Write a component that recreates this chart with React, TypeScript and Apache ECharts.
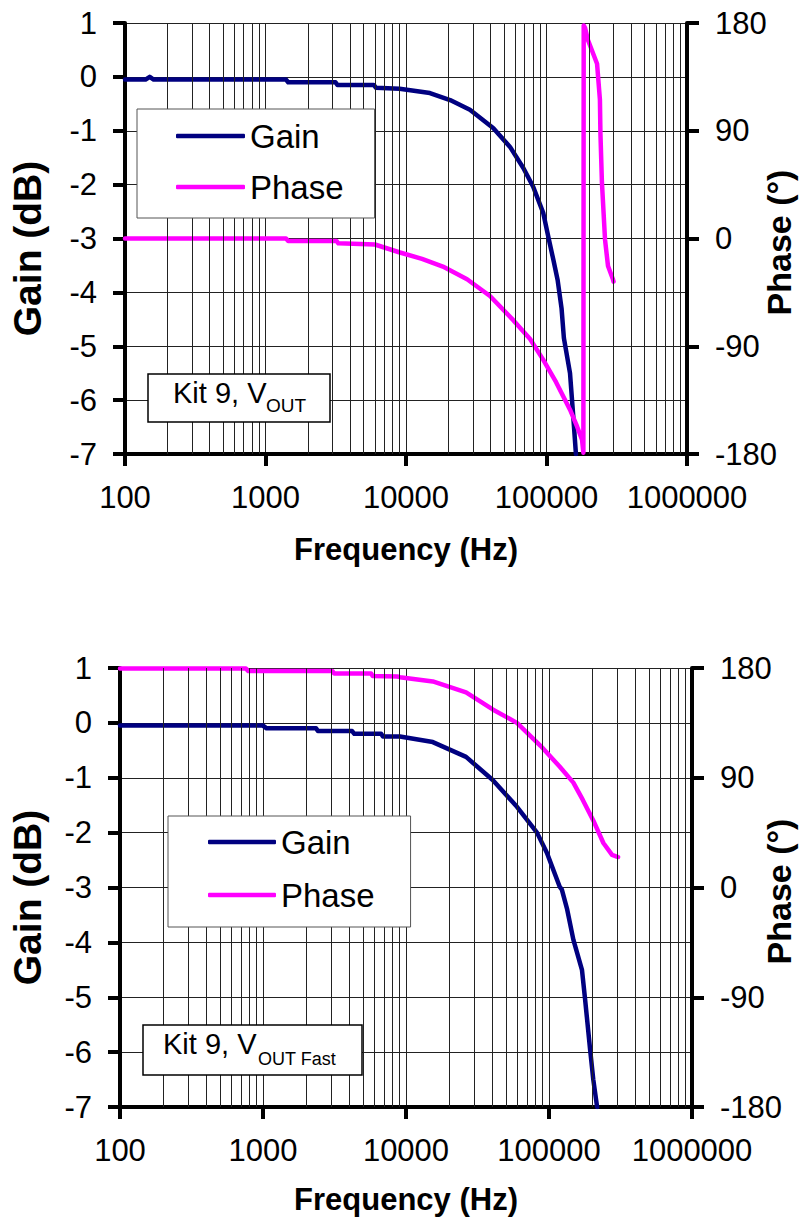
import React, { useEffect, useRef } from "react";
import * as echarts from "echarts";

const FONT = "'Liberation Sans', Arial, Helvetica, sans-serif";

const xTickLabels = ["100", "1000", "10000", "100000", "1000000"];
const minorFreqs = [
  200, 300, 400, 500, 600, 700, 800, 900,
  2000, 3000, 4000, 5000, 6000, 7000, 8000, 9000,
  20000, 30000, 40000, 50000, 60000, 70000, 80000, 90000,
  200000, 300000, 400000, 500000, 600000, 700000, 800000, 900000,
];
const seriesNames = ["Gain", "Phase"];

// Top chart: Kit 9, VOUT
const topGain: [number, number][] = [
  [100, -0.05], [140, -0.05], [150, 0], [160, -0.05], [1400, -0.05], [1450, -0.1],
  [3150, -0.1], [3250, -0.15], [5900, -0.15], [6100, -0.2], [9000, -0.22],
  [14800, -0.3], [20600, -0.43], [28500, -0.61], [41700, -0.95], [55000, -1.3],
  [68400, -1.69], [80400, -2.04], [94900, -2.53], [104000, -3.02], [112000, -3.4],
  [120000, -3.77], [128000, -4.3], [133000, -4.85], [147000, -5.5], [155000, -6.3],
  [162000, -7.0],
];
const topPhase: [number, number][] = [
  [100, 0], [1400, 0], [1450, -2], [3200, -2], [3300, -4], [6000, -5], [9060, -11.7],
  [13000, -17], [18300, -23.4], [27200, -34], [39600, -48], [57800, -68],
  [76400, -84], [94400, -101], [117000, -120], [147000, -143], [165000, -157],
  [179000, -168], [183000, -179], [184000, 178], [188000, 176], [197000, 166],
  [229000, 146], [240000, 116], [242000, 88], [248000, 47], [261000, -1],
  [274000, -23], [297000, -34], [300000, -36],
];

// Bottom chart: Kit 9, VOUT Fast
const botGain: [number, number][] = [
  [100, -0.05], [1000, -0.05], [1060, -0.1], [2350, -0.1], [2420, -0.15],
  [4200, -0.15], [4350, -0.2], [6700, -0.2], [6900, -0.25], [9070, -0.25],
  [15400, -0.35], [26300, -0.62], [40400, -1.04], [59700, -1.53], [82400, -2.0],
  [96800, -2.37], [119000, -2.99], [123000, -3.04], [134000, -3.4], [148000, -3.95],
  [170000, -4.5], [179000, -5.05], [194000, -5.96], [204000, -6.5], [217000, -7.0],
];
const botPhase: [number, number][] = [
  [100, 179.5], [760, 179.5], [790, 177.5], [3050, 177.5], [3150, 175.5],
  [5700, 175.5], [5850, 173.5], [8700, 173], [9070, 172.5], [15400, 169],
  [26300, 160], [40400, 146], [59700, 135], [87600, 116], [119000, 99],
  [148000, 86], [172000, 72], [204000, 55], [240000, 36.5], [276000, 26.7],
  [304000, 25],
];

const GAIN_COLOR = "#000080";
const PHASE_COLOR = "#FF00FF";

function xAxisCfg(gridIndex: number, nameGap: number) {
  return {
    type: "log",
    logBase: 10,
    min: 100,
    max: 1000000,
    gridIndex,
    name: "Frequency (Hz)",
    nameLocation: "middle",
    nameGap,
    nameMoveOverlap: false,
    nameTextStyle: { fontFamily: FONT, fontWeight: "bold", fontSize: 31, color: "#000" },
    axisLine: { show: true, onZero: false, lineStyle: { color: "#000", width: 4 } },
    axisTick: { show: true, length: 12, lineStyle: { color: "#000", width: 4 } },
    axisLabel: {
      margin: 28,
      fontFamily: FONT,
      fontSize: 31,
      color: "#000",
      formatter: (v: number) => xTickLabels[Math.round(Math.log10(v)) - 2] ?? "",
    },
    splitLine: { show: true, lineStyle: { color: "#222", width: 1 } },
  };
}

function yAxisCfg(
  gridIndex: number,
  position: "left" | "right",
  name: string,
  min: number,
  max: number,
  interval: number,
  nameGap: number,
  nameSize: number,
  nameShift: number,
  split: boolean
) {
  return {
    type: "value",
    gridIndex,
    position,
    min,
    max,
    interval,
    name,
    nameLocation: "middle",
    nameGap,
    nameRotate: 90,
    nameMoveOverlap: false,
    nameTextStyle: {
      fontFamily: FONT,
      fontWeight: "bold",
      fontSize: nameSize,
      color: "#000",
      padding: [0, nameShift, 0, 0],
    },
    axisLine: { show: true, onZero: false, lineStyle: { color: "#000", width: 4 } },
    axisTick: { show: true, length: 12, lineStyle: { color: "#000", width: 4 } },
    axisLabel: { margin: 28, fontFamily: FONT, fontSize: 31, color: "#000" },
    splitLine: { show: split, lineStyle: { color: "#222", width: 1 } },
  };
}

function gridSeries(xi: number, yi: number) {
  return {
    type: "line",
    name: "grid" + xi,
    xAxisIndex: xi,
    yAxisIndex: yi,
    data: [],
    silent: true,
    z: 1,
    markLine: {
      silent: true,
      symbol: ["none", "none"],
      label: { show: false },
      lineStyle: { color: "#222", width: 1, type: "solid" },
      emphasis: { disabled: true },
      data: minorFreqs.map((f) => ({ xAxis: f })),
    },
  };
}

function curve(name: string, data: [number, number][], xi: number, yi: number, color: string) {
  return {
    type: "line",
    name,
    xAxisIndex: xi,
    yAxisIndex: yi,
    data,
    symbol: "none",
    showSymbol: false,
    z: 3,
    lineStyle: { color, width: 4.5, cap: "round", join: "round" },
    itemStyle: { color },
    emphasis: { disabled: true },
  };
}

function legendCfg(left: number, top: number, padding: number[], itemWidth: number, itemGap: number) {
  return {
    data: seriesNames,
    orient: "vertical",
    left,
    top,
    padding,
    icon: "roundRect",
    itemWidth,
    itemHeight: 4.5,
    itemGap,
    backgroundColor: "#fff",
    borderColor: "#555",
    borderWidth: 1,
    selectedMode: false,
    textStyle: { fontFamily: FONT, fontSize: 33, color: "#000" },
    z: 10,
  };
}

function noteBox(
  x: number,
  y: number,
  w: number,
  h: number,
  tx: number,
  ty: number,
  sx: number,
  sy: number,
  sub: string,
  subSize: number
) {
  return [
    {
      type: "rect",
      shape: { x, y, width: w, height: h },
      style: { fill: "#fff", stroke: "#000", lineWidth: 1.5 },
      z: 100,
    },
    {
      type: "text",
      x: tx,
      y: ty,
      style: { text: "Kit 9, V", fontFamily: FONT, fontSize: 29, fill: "#000", verticalAlign: "middle", align: "left" },
      z: 101,
    },
    {
      type: "text",
      x: sx,
      y: sy,
      style: { text: sub, fontFamily: FONT, fontSize: subSize, fill: "#000", verticalAlign: "middle", align: "left" },
      z: 101,
    },
  ];
}

export default function App() {
  const ref = useRef<HTMLDivElement>(null);
  useEffect(() => {
    document.body.style.margin = "0";
    if (!ref.current) return;
    const chart = echarts.init(ref.current, undefined, { renderer: "svg" });
    const option: any = {
      animation: false,
      backgroundColor: "#fff",
      grid: [
        { left: 125, top: 23, width: 562, height: 431, containLabel: false, outerBoundsMode: "none" },
        { left: 120, top: 668, width: 572, height: 439, containLabel: false, outerBoundsMode: "none" },
      ],
      xAxis: [xAxisCfg(0, 80), xAxisCfg(1, 77)],
      yAxis: [
        yAxisCfg(0, "left", "Gain (dB)", -7, 1, 1, 78, 39, 20, true),
        yAxisCfg(0, "right", "Phase (°)", -180, 180, 90, 75, 34, 8, false),
        yAxisCfg(1, "left", "Gain (dB)", -7, 1, 1, 73, 39, 20, true),
        yAxisCfg(1, "right", "Phase (°)", -180, 180, 90, 70, 34, 8, false),
      ],
      legend: [
        legendCfg(137, 109, [10.5, 31, 14.5, 39], 69, 18),
        legendCfg(168, 816, [9.5, 36, 15.5, 40], 68, 20),
      ],
      series: [
        gridSeries(0, 0),
        gridSeries(1, 2),
        curve("Gain", topGain, 0, 0, GAIN_COLOR),
        curve("Phase", topPhase, 0, 1, PHASE_COLOR),
        curve("Gain", botGain, 1, 2, GAIN_COLOR),
        curve("Phase", botPhase, 1, 3, PHASE_COLOR),
      ],
      graphic: [
        ...noteBox(148, 374, 182, 48, 173, 392.5, 266, 405.5, "OUT", 19),
        ...noteBox(143, 1025, 219, 50, 163, 1044, 258, 1059, "OUT Fast", 18),
      ],
    };
    chart.setOption(option);
    return () => chart.dispose();
  }, []);
  return <div ref={ref} style={{ width: 801, height: 1226 }} />;
}
